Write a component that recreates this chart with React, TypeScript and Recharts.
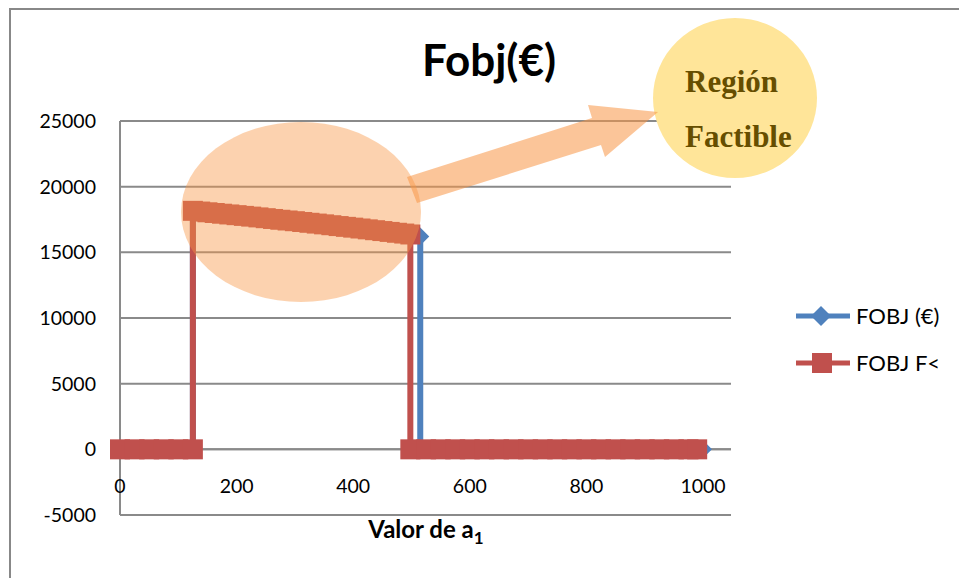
import React from "react";
import { ComposedChart, Scatter, XAxis, YAxis, CartesianGrid, ReferenceLine } from "recharts";

// feasible stretch of a1 (shared by both series)
const curveX = [125, 137.5, 150, 162.5, 175, 187.5, 200, 212.5, 225, 237.5, 250, 262.5, 275, 287.5, 300, 312.5, 325, 337.5, 350, 362.5, 375, 387.5, 400, 412.5, 425, 437.5, 450, 462.5, 475, 487.5, 498];
const curveY = [18160, 18105, 18050, 17995, 17940, 17885, 17830, 17775, 17720, 17660, 17600, 17540, 17480, 17425, 17370, 17310, 17250, 17190, 17130, 17065, 17000, 16940, 16880, 16815, 16750, 16685, 16620, 16555, 16490, 16430, 16360];

// zero stretches
const leftZeroX = [0, 25, 50, 75, 100, 125];
const blueRightZeroX = [515, 525, 550, 575, 600, 625, 650, 675, 700, 725, 750, 775, 800, 825, 850, 875, 900, 925, 950, 975, 1000];
const redRightZeroX = [498, 525, 550, 575, 600, 625, 650, 675, 700, 725, 750, 775, 800, 825, 850, 875, 900, 925, 950, 975, 990];

// FOBJ (€) keeps going a little further than FOBJ F<
const blueEndX = 515;
const blueEndY = 16210;

const xTicks = [0, 200, 400, 600, 800, 1000];
const yTicks = [-5000, 0, 5000, 10000, 15000, 20000, 25000];

const BLUE = "#4F81BD";
const RED = "#C0504D";
const GRID = "#8a8a8a";
const FONT = "Lato, 'Open Sans', sans-serif";

const curve = curveX.map((x, i) => ({ x, y: curveY[i] }));
const zeros = (xs: number[]) => xs.map((x) => ({ x, y: 0 }));

const blueData = [...zeros(leftZeroX), ...curve, { x: blueEndX, y: blueEndY }, ...zeros(blueRightZeroX)];
const redData = [...zeros(leftZeroX), ...curve, ...zeros(redRightZeroX)];

const Diamond = (p: any) => {
  const { cx, cy } = p;
  const s = 9;
  return <polygon points={`${cx - s},${cy} ${cx},${cy - s} ${cx + s},${cy} ${cx},${cy + s}`} fill={BLUE} />;
};

const Square = (p: any) => {
  const { cx, cy } = p;
  return <rect x={cx - 10} y={cy - 10} width={20} height={20} fill={RED} />;
};

const XTick = (p: any) => (
  <text x={p.x} y={493} textAnchor="middle" fontFamily={FONT} fontSize={19.5} fill="#000">
    {p.payload.value}
  </text>
);

const YTick = (p: any) => (
  <text x={96} y={p.y + 7} textAnchor="end" fontFamily={FONT} fontSize={19.5} fill="#000">
    {p.payload.value}
  </text>
);

export default function App() {
  return (
    <div style={{ position: "absolute", left: 0, top: 0, width: 959, height: 578, background: "#fff" }}>
      <ComposedChart width={959} height={578} margin={{ top: 121, right: 228, bottom: 33, left: 20 }}>
        <CartesianGrid vertical={false} stroke={GRID} strokeWidth={2} />
        <XAxis type="number" dataKey="x" domain={[0, 1048]} ticks={xTicks} axisLine={false} tickLine={false} tick={<XTick />} height={30} />
        <YAxis type="number" dataKey="y" domain={[-5000, 25000]} ticks={yTicks} axisLine={{ stroke: GRID, strokeWidth: 2 }} tickLine={false} tick={<YTick />} width={100} />
        <ReferenceLine y={0} stroke={GRID} strokeWidth={2} />
        <Scatter data={blueData} line={{ stroke: BLUE, strokeWidth: 6 }} lineType="joint" shape={Diamond} isAnimationActive={false} />
        <Scatter data={redData} line={{ stroke: RED, strokeWidth: 6 }} lineType="joint" shape={Square} isAnimationActive={false} />
      </ComposedChart>
      <svg width={959} height={578} style={{ position: "absolute", left: 0, top: 0, pointerEvents: "none" }}>
        <path d="M10,578 V9 H959" fill="none" stroke="#888" strokeWidth={2} />
        <text x={489} y={76} textAnchor="middle" fontFamily={FONT} fontWeight="bold" fontSize={44} fill="#000">Fobj(€)</text>
        <text x={426} y={538} textAnchor="middle" fontFamily={FONT} fontWeight="bold" fontSize={24} fill="#000">
          Valor de a<tspan fontSize={17} dy={6}>1</tspan>
        </text>
        <ellipse cx={301} cy={212} rx={120} ry={90} fill="#F79646" fillOpacity={0.43} />
        <ellipse cx={735} cy={98} rx={82} ry={80} fill="#FFE599" />
        <polygon points="407,177 592,118 588,105 658,112 605,157 601,145 417,203" fill="#F79646" fillOpacity={0.55} />
        <text x={685} y={92} fontFamily="'Liberation Serif', serif" fontWeight="bold" fontSize={31} fill="#664E00">Región</text>
        <text x={685} y={147} fontFamily="'Liberation Serif', serif" fontWeight="bold" fontSize={31} fill="#664E00">Factible</text>
        <line x1={796} y1={316} x2={850} y2={316} stroke={BLUE} strokeWidth={5} />
        <polygon points="811,316 821,306 831,316 821,326" fill={BLUE} />
        <text x={856} y={324} fontFamily={FONT} fontSize={22} fill="#000">FOBJ (€)</text>
        <line x1={796} y1={363} x2={850} y2={363} stroke={RED} strokeWidth={5} />
        <rect x={812} y={353} width={20} height={20} fill={RED} />
        <text x={856} y={371} fontFamily={FONT} fontSize={22} fill="#000">FOBJ F&lt;</text>
      </svg>
    </div>
  );
}
